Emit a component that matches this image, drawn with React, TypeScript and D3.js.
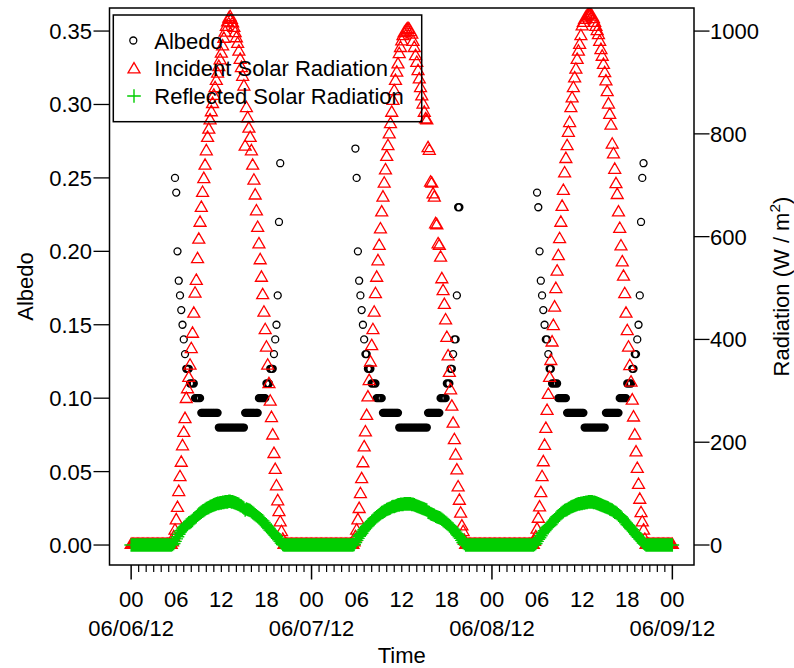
import React from "react";
import * as d3 from "d3";

// ---------- data (10-minute readings) ----------
const timeStart = "2012-06-06 00:00";
const timeEnd = "2012-06-09 00:00";
const stepMinutes = 10;

const albedoTicks = [0, 0.05, 0.1, 0.15, 0.2, 0.25, 0.3, 0.35];
const radiationTicks = [0, 200, 400, 600, 800, 1000];
const hourLabelHours = [0, 6, 12, 18];
const dateLabels = ["06/06/12", "06/07/12", "06/08/12", "06/09/12"];
const legendLabels = ["Albedo", "Incident Solar Radiation", "Reflected Solar Radiation"];

// Incident solar radiation (W/m2); readings outside these blocks are 0 (night)
const incidentDay1Start = "2012-06-06 05:30";
const incidentDay1 = [
  5, 15, 28, 48, 72, 103, 132, 160, 192, 218,
  245, 284, 303, 325, 349, 381, 411, 450, 489, 514,
  556, 594, 627, 656, 685, 712, 738, 766, 792, 808,
  826, 842, 858, 874, 889, 903, 917, 930, 943, 956,
  970, 985, 997, 1008, 1017, 1024, 1027, 1022, 1015, 1006,
  996, 986, 975, 960, 944, 928, 911, 892, 775, 850,
  830, 810, 792, 766, 738, 709, 680, 649, 617, 585,
  554, 520, 486, 452, 418, 384, 349, 313, 279, 247,
  213, 177, 146, 114, 85, 64, 44, 25, 10,
];
const incidentDay2Start = "2012-06-07 05:40";
const incidentDay2 = [
  5, 15, 28, 48, 70, 99, 128, 159, 190, 219,
  251, 287, 319, 355, 387, 418, 452, 488, 520, 552,
  582, 614, 647, 676, 703, 729, 755, 776, 799, 819,
  841, 864, 883, 903, 919, 935, 955, 967, 980, 990,
  996, 999, 1002, 1004, 1002, 998, 993, 979, 967, 951,
  938, 922, 906, 889, 873, 857, 841, 828, 826, 772,
  767, 705, 703, 682, 676, 624, 622, 585, 582, 559,
  517, 494, 467, 437, 403, 367, 335, 301, 269, 236,
  204, 174, 145, 112, 86, 61, 36, 25, 8,
];
const incidentDay3Start = "2012-06-08 05:40";
const incidentDay3 = [
  6, 15, 30, 51, 73, 101, 132, 161, 193, 226,
  261, 292, 325, 358, 394, 426, 462, 498, 532, 562,
  595, 627, 658, 689, 723, 751, 776, 802, 821, 850,
  869, 889, 908, 925, 944, 960, 973, 990, 1009, 1016,
  1022, 1026, 1029, 1031, 1032, 1031, 1028, 1023, 1016, 1008,
  1000, 992, 979, 963, 950, 934, 918, 902, 881, 857,
  837, 816, 779, 760, 730, 702, 681, 647, 615, 581,
  550, 522, 488, 450, 416, 384, 348, 316, 281, 248,
  213, 180, 148, 117, 88, 62, 44, 28, 10,
];

// Reflected solar radiation (W/m2); 0 at night
const reflectedDay1Start = "2012-06-06 05:30";
const reflectedDay1 = [
  1, 3, 7, 12, 16, 21, 25, 28, 31, 34,
  36, 39, 41, 43, 44, 46, 48, 51, 53, 55,
  58, 60, 62, 64, 66, 67, 69, 71, 72, 73,
  75, 76, 77, 78, 79, 80, 81, 81, 82, 82,
  83, 83, 84, 84, 84, 85, 85, 84, 84, 83,
  82, 81, 80, 79, 77, 76, 74, 72, 68, 70,
  69, 68, 67, 65, 63, 61, 59, 57, 55, 53,
  51, 49, 47, 44, 41, 38, 35, 32, 29, 27,
  24, 22, 19, 16, 13, 10, 7, 4, 1,
];
const reflectedDay2Start = "2012-06-07 05:40";
const reflectedDay2 = [
  1, 5, 9, 13, 17, 20, 23, 27, 30, 33,
  36, 38, 41, 43, 46, 48, 51, 53, 55, 57,
  59, 61, 63, 64, 66, 67, 69, 70, 71, 72,
  74, 75, 75, 76, 77, 78, 78, 79, 79, 79,
  80, 80, 80, 80, 80, 80, 79, 79, 78, 77,
  76, 75, 74, 73, 72, 71, 70, 69, 68, 64,
  63, 61, 60, 59, 58, 56, 55, 54, 53, 52,
  50, 48, 46, 44, 42, 40, 38, 36, 33, 31,
  28, 25, 22, 19, 16, 13, 9, 5, 3,
];
const reflectedDay3Start = "2012-06-08 05:40";
const reflectedDay3 = [
  1, 3, 7, 11, 14, 18, 22, 25, 28, 31,
  34, 36, 38, 40, 43, 46, 49, 52, 55, 57,
  59, 61, 63, 65, 67, 68, 69, 71, 72, 74,
  75, 76, 77, 78, 79, 80, 80, 81, 81, 82,
  82, 83, 83, 84, 84, 84, 84, 83, 83, 82,
  81, 80, 79, 78, 77, 76, 75, 74, 73, 72,
  70, 69, 68, 66, 64, 63, 61, 59, 57, 55,
  52, 49, 46, 43, 40, 38, 35, 32, 30, 27,
  24, 21, 18, 15, 12, 10, 7, 4, 2,
];

// Albedo (reported only in daylight)
const albedoDay1Start = "2012-06-06 05:50";
const albedoDay1 = [
  0.25, 0.24, 0.2, 0.18, 0.17, 0.16, 0.15, 0.14, 0.13,
  0.12, 0.12, 0.12,
  0.11, 0.11, 0.11, 0.11,
  0.1, 0.1, 0.1, 0.1, 0.1,
  0.09, 0.09, 0.09, 0.09, 0.09, 0.09, 0.09, 0.09, 0.09, 0.09, 0.09, 0.09, 0.09, 0.09,
  0.08, 0.08, 0.08, 0.08, 0.08, 0.08, 0.08, 0.08, 0.08, 0.08, 0.08,
  0.08, 0.08, 0.08, 0.08, 0.08, 0.08, 0.08, 0.08, 0.08, 0.08,
  0.09, 0.09, 0.09, 0.09, 0.09, 0.09, 0.09, 0.09, 0.09, 0.09, 0.09,
  0.1, 0.1, 0.1, 0.1, 0.1, 0.1,
  0.11, 0.11, 0.11,
  0.12, 0.12, 0.12,
  0.13, 0.14, 0.15, 0.17, 0.22, 0.26,
];
const albedoDay2Start = "2012-06-07 05:50";
const albedoDay2 = [
  0.27, 0.25, 0.2, 0.18, 0.17, 0.16, 0.15, 0.14, 0.13, 0.13,
  0.12, 0.12, 0.12,
  0.11, 0.11, 0.11, 0.11,
  0.1, 0.1, 0.1, 0.1, 0.1,
  0.09, 0.09, 0.09, 0.09, 0.09, 0.09, 0.09, 0.09, 0.09, 0.09, 0.09, 0.09, 0.09,
  0.08, 0.08, 0.08, 0.08, 0.08, 0.08, 0.08, 0.08, 0.08, 0.08, 0.08, 0.08,
  0.08, 0.08, 0.08, 0.08, 0.08, 0.08, 0.08, 0.08, 0.08, 0.08, 0.08,
  0.09, 0.09, 0.09, 0.09, 0.09, 0.09, 0.09, 0.09, 0.09, 0.09,
  0.1, 0.1, 0.1, 0.1, 0.1,
  0.11, 0.11, 0.11,
  0.12, 0.12,
  0.13, 0.14, 0.14, 0.17, 0.23, 0.23,
];
const albedoDay3Start = "2012-06-08 06:00";
const albedoDay3 = [
  0.24, 0.23, 0.2, 0.18, 0.17, 0.16, 0.15, 0.14, 0.14, 0.13,
  0.12, 0.12,
  0.11, 0.11, 0.11, 0.11, 0.11,
  0.1, 0.1, 0.1, 0.1, 0.1, 0.1, 0.1,
  0.09, 0.09, 0.09, 0.09, 0.09, 0.09, 0.09, 0.09, 0.09, 0.09, 0.09, 0.09, 0.09, 0.09,
  0.08, 0.08, 0.08, 0.08, 0.08, 0.08, 0.08, 0.08, 0.08,
  0.08, 0.08, 0.08, 0.08, 0.08, 0.08, 0.08, 0.08,
  0.09, 0.09, 0.09, 0.09, 0.09, 0.09, 0.09, 0.09, 0.09, 0.09, 0.09,
  0.1, 0.1, 0.1, 0.1, 0.1, 0.1,
  0.11, 0.11, 0.11, 0.11,
  0.12, 0.12,
  0.13, 0.13,
  0.14, 0.15, 0.17, 0.22, 0.25, 0.26,
];

// ---------- layout ----------
const W = 794;
const H = 668;
const PL = 109.5;
const PR = 694;
const PT = 8;
const PB = 565;
const FONT = "'Liberation Sans', Arial, Helvetica, sans-serif";
const FS = 22;
const RED = "#FF0000";
const GREEN = "#00CD00";

const parse = d3.timeParse("%Y-%m-%d %H:%M");
const t0 = parse(timeStart) as Date;
const t1 = parse(timeEnd) as Date;
const stepMs = stepMinutes * 60000;
const times = d3.range(Math.round((+t1 - +t0) / stepMs) + 1).map((i) => new Date(+t0 + i * stepMs));

function place(base: number[], start: string, vals: number[]) {
  const s = Math.round((+(parse(start) as Date) - +t0) / stepMs);
  vals.forEach((v, k) => {
    base[s + k] = v;
  });
}

const incident = times.map(() => 0);
place(incident, incidentDay1Start, incidentDay1);
place(incident, incidentDay2Start, incidentDay2);
place(incident, incidentDay3Start, incidentDay3);

const reflected = times.map(() => 0);
place(reflected, reflectedDay1Start, reflectedDay1);
place(reflected, reflectedDay2Start, reflectedDay2);
place(reflected, reflectedDay3Start, reflectedDay3);

const albedo: number[] = times.map(() => NaN);
place(albedo, albedoDay1Start, albedoDay1);
place(albedo, albedoDay2Start, albedoDay2);
place(albedo, albedoDay3Start, albedoDay3);

const pad = 0.04 * (+t1 - +t0);
const x = d3.scaleTime().domain([new Date(+t0 - pad), new Date(+t1 + pad)]).range([PL, PR]);
const yA = d3.scaleLinear().domain([-0.0136, 0.3657]).range([PB, PT]);
const yR = d3.scaleLinear().domain([-38.9, 1044.9]).range([PB, PT]);

const CR = 3.5; // circle radius
const TC = 4.45; // triangle size base
const PH = 6.8; // plus half-length

const circ = (cx: number, cy: number) =>
  `M${cx + CR},${cy}A${CR},${CR} 0 1,0 ${cx - CR},${cy}A${CR},${CR} 0 1,0 ${cx + CR},${cy}Z`;
const tri = (cx: number, cy: number) =>
  `M${cx},${cy - 1.555 * TC}L${cx + 1.347 * TC},${cy + 0.778 * TC}L${cx - 1.347 * TC},${cy + 0.778 * TC}Z`;
const plus = (cx: number, cy: number) => `M${cx - PH},${cy}H${cx + PH}M${cx},${cy - PH}V${cy + PH}`;

export default function App() {
  const albedoPath = times
    .map((t, i) => (isNaN(albedo[i]) ? "" : circ(x(t), yA(albedo[i]))))
    .join("");
  const incidentPath = times.map((t, i) => tri(x(t), yR(incident[i]))).join("");
  const reflectedPath = times.map((t, i) => plus(x(t), yR(reflected[i]))).join("");

  const hourTicks = d3.timeHour.range(t0, new Date(+t1 + 1));
  const labelTicks = hourTicks.filter((d) => hourLabelHours.includes(d.getHours()));
  const dayTicks = d3.timeDay.range(t0, new Date(+t1 + 1));
  const fmtHour = d3.timeFormat("%H");

  const legendRows = [41, 68.5, 96];

  return (
    <svg
      width={W}
      height={H}
      style={{ position: "absolute", left: 0, top: 0, background: "#fff" }}
      fontFamily={FONT}
      fontSize={FS}
    >
      <defs>
        <clipPath id="plotClip">
          <rect x={PL} y={PT} width={PR - PL} height={PB - PT} />
        </clipPath>
      </defs>
      <rect x={0} y={0} width={W} height={H} fill="#fff" />

      <g clipPath="url(#plotClip)">
        <path d={albedoPath} fill="none" stroke="#000" strokeWidth={1.3} />
        <path d={incidentPath} fill="none" stroke={RED} strokeWidth={1.3} strokeLinejoin="miter" />
        <path d={reflectedPath} fill="none" stroke={GREEN} strokeWidth={1.4} />
      </g>

      {/* box */}
      <rect x={PL} y={PT} width={PR - PL} height={PB - PT} fill="none" stroke="#000" strokeWidth={1.5} />

      {/* left axis */}
      {albedoTicks.map((v) => (
        <g key={"la" + v}>
          <line x1={PL - 16} x2={PL} y1={yA(v)} y2={yA(v)} stroke="#000" strokeWidth={1.3} />
          <text x={PL - 17.5} y={yA(v) + 7.9} textAnchor="end">
            {d3.format(".2f")(v)}
          </text>
        </g>
      ))}
      {/* right axis */}
      {radiationTicks.map((v) => (
        <g key={"ra" + v}>
          <line x1={PR} x2={PR + 15.5} y1={yR(v)} y2={yR(v)} stroke="#000" strokeWidth={1.3} />
          <text x={PR + 16} y={yR(v) + 7.9} textAnchor="start">
            {v}
          </text>
        </g>
      ))}
      {/* bottom axis */}
      {hourTicks.map((d, i) => {
        const major = d.getHours() === 0;
        return (
          <line
            key={"bt" + i}
            x1={x(d)}
            x2={x(d)}
            y1={PB}
            y2={PB + (major ? 14.5 : 7)}
            stroke="#000"
            strokeWidth={major ? 1.5 : 1.2}
          />
        );
      })}
      {labelTicks.map((d, i) => (
        <text key={"hl" + i} x={x(d)} y={606.5} textAnchor="middle">
          {fmtHour(d)}
        </text>
      ))}
      {dayTicks.map((d, i) => (
        <text key={"dl" + i} x={x(d)} y={635.5} textAnchor="middle">
          {dateLabels[i]}
        </text>
      ))}

      {/* axis titles */}
      <text x={(PL + PR) / 2} y={663} textAnchor="middle">
        Time
      </text>
      <text transform={`translate(32.5,${(PT + PB) / 2}) rotate(-90)`} textAnchor="middle">
        Albedo
      </text>
      <text transform={`translate(789,${(PT + PB) / 2}) rotate(-90)`} textAnchor="middle">
        {"Radiation (W / m"}
        <tspan dy={-9} fontSize={15.5}>
          2
        </tspan>
        <tspan dy={9}>)</tspan>
      </text>

      {/* legend */}
      <rect x={113.3} y={15} width={308.4} height={106.7} fill="none" stroke="#000" strokeWidth={1.5} />
      <path d={circ(133.3, legendRows[0] - 0.5)} fill="none" stroke="#000" strokeWidth={1.3} />
      <path d={tri(134, legendRows[1] + 1)} fill="none" stroke={RED} strokeWidth={1.3} />
      <path d={plus(134, legendRows[2])} fill="none" stroke={GREEN} strokeWidth={1.4} />
      {legendLabels.map((l, i) => (
        <text key={l} x={154.3} y={legendRows[i] + 7.9}>
          {l}
        </text>
      ))}
    </svg>
  );
}
